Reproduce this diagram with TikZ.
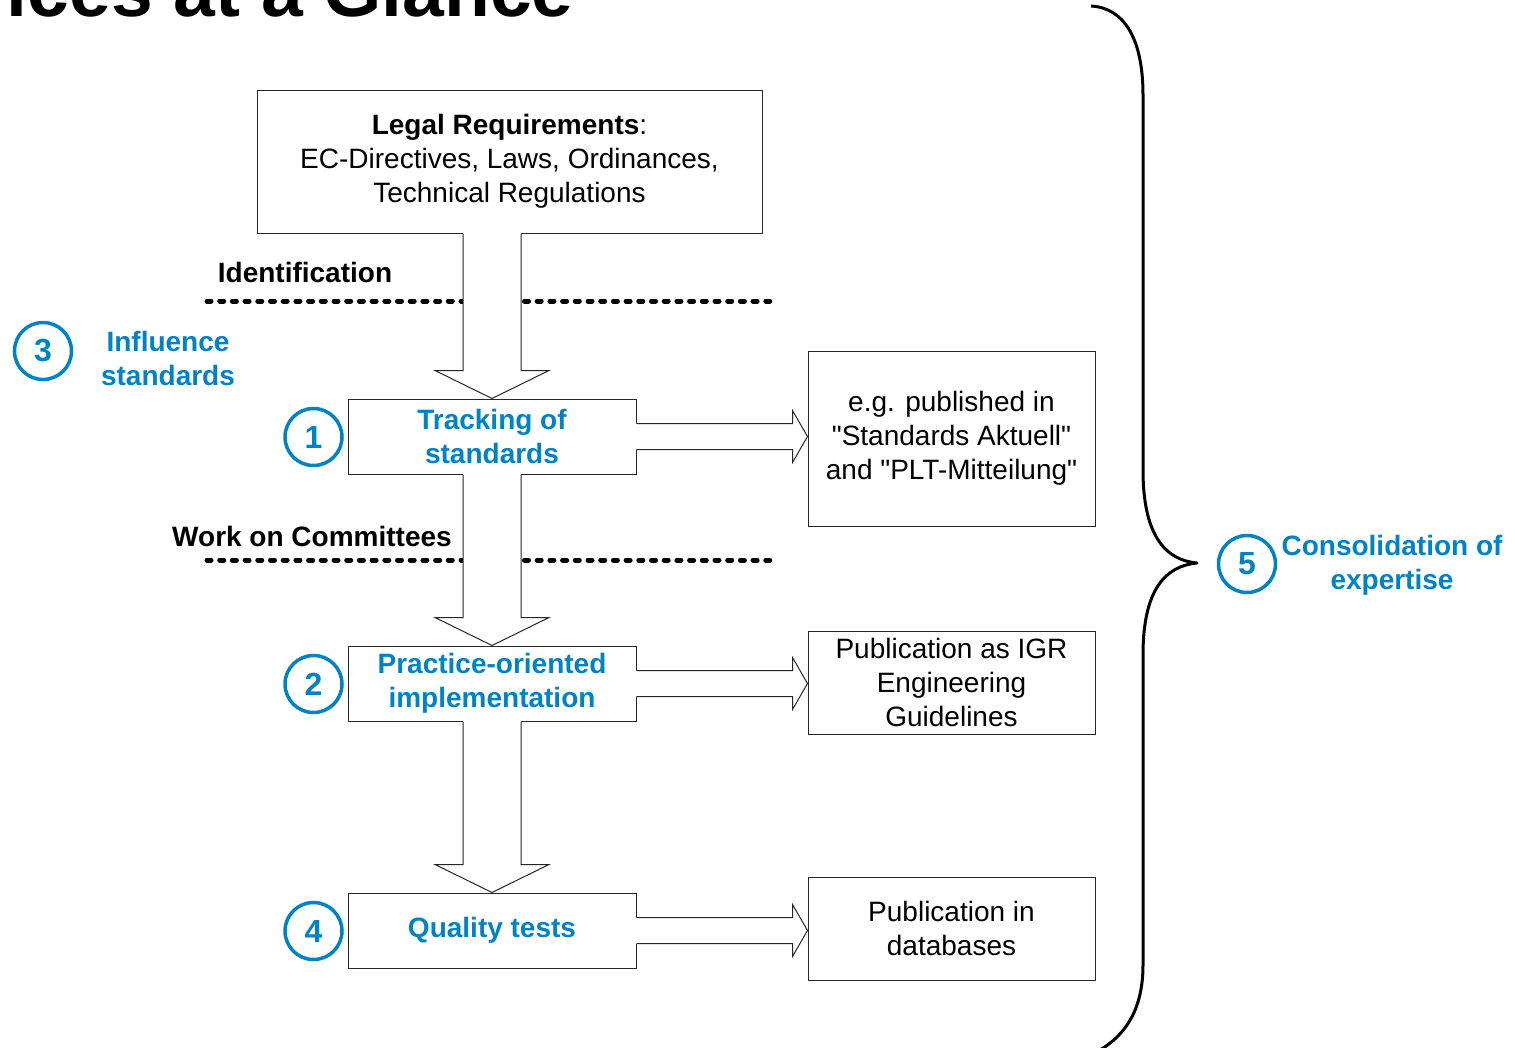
\documentclass[tikz,border=0pt]{standalone}
\usepackage{fontspec}
\setmainfont{Liberation Sans}[Ligatures=TeXOff]
\usetikzlibrary{calc}
\definecolor{igrblue}{RGB}{0,130,198}
\tikzset{
  body/.style={font=\fontsize{28}{34}\selectfont, align=center, inner sep=0pt},
  bluelbl/.style={font=\fontsize{28}{34}\selectfont\bfseries, text=igrblue, align=center, inner sep=0pt},
  boxn/.style={draw=black!85, line width=1pt, fill=white, inner sep=0pt, align=center, font=\fontsize{28}{34}\selectfont},
  numc/.style={circle, draw=igrblue, line width=3.5pt, minimum size=57pt, inner sep=0pt, text=igrblue, font=\fontsize{32}{32}\selectfont\bfseries},
  dotline/.style={line width=5pt, line cap=round, dash pattern=on 4pt off 8.7pt},
  hollow/.style={draw=black!85, line width=1pt},
  bracel/.style={line width=3pt, black, line join=round}
}
\newcommand\hdarrow[2]{%
  \fill[white] let \p1=(#2.north), \p2=(#1.south) in
    (\x1-29pt,\y2+1.5pt) -- (\x1-29pt,\y1+28pt) -- (\x1-57pt,\y1+28pt) -- (\x1,\y1)
    -- (\x1+57pt,\y1+28pt) -- (\x1+29pt,\y1+28pt) -- (\x1+29pt,\y2+1.5pt) -- cycle;
  \draw[hollow] let \p1=(#2.north), \p2=(#1.south) in
    (\x1-29pt,\y2) -- (\x1-29pt,\y1+28pt) -- (\x1-57pt,\y1+28pt) -- (\x1,\y1)
    -- (\x1+57pt,\y1+28pt) -- (\x1+29pt,\y1+28pt) -- (\x1+29pt,\y2);}
\newcommand\hrarrow[2]{%
  \fill[white] let \p1=(#1.east), \p2=(#2.west) in
    (\x1-1.5pt,\y1+13pt) -- (\x2-15pt,\y1+13pt) -- (\x2-15pt,\y1+26pt) -- (\x2,\y1)
    -- (\x2-15pt,\y1-26pt) -- (\x2-15pt,\y1-13pt) -- (\x1-1.5pt,\y1-13pt) -- cycle;
  \draw[hollow] let \p1=(#1.east), \p2=(#2.west) in
    (\x1,\y1+13pt) -- (\x2-15pt,\y1+13pt) -- (\x2-15pt,\y1+26pt) -- (\x2,\y1)
    -- (\x2-15pt,\y1-26pt) -- (\x2-15pt,\y1-13pt) -- (\x1,\y1-13pt);}
\begin{document}
\begin{tikzpicture}[x=1pt,y=-1pt]
\useasboundingbox (0,0) rectangle (1515,1047);
% title (cut off at the page edge)
\node[anchor=base east, inner sep=0pt, font=\fontsize{75}{80}\selectfont\bfseries] (title) at (574,16) {Services at a Glance};
% dotted separators
\draw[dotline] (207,301) coordinate (d1a) -- (773,301) coordinate (d1b);
\draw[dotline] (207,560) coordinate (d2a) -- (773,560) coordinate (d2b);
\node[body, font=\fontsize{28}{34}\selectfont\bfseries] (ident) at (305,272) {Identification};
\node[body, font=\fontsize{28}{34}\selectfont\bfseries] (work) at (312,536) {Work on Committees};
% boxes
\node[boxn, minimum width=505pt, minimum height=143pt] (legal) at (509.5,161.5)
  {\textbf{Legal Requirements}:\\EC-Directives, Laws, Ordinances,\\Technical Regulations};
\node[boxn, minimum width=288pt, minimum height=75pt, text=igrblue, font=\fontsize{28}{34}\selectfont\bfseries] (track) at (492,436.5) {Tracking of\\standards};
\node[boxn, minimum width=288pt, minimum height=75pt, text=igrblue, font=\fontsize{28}{34}\selectfont\bfseries] (pract) at (492,683.5) {Practice-oriented\\implementation};
\node[boxn, minimum width=288pt, minimum height=75pt, text=igrblue, font=\fontsize{28}{34}\selectfont\bfseries] (qual) at (492,930.5) {Quality tests};
\node[boxn, minimum width=287pt, minimum height=175pt] (pub1) at (951.5,438.5) {e.g. published in\\"Standards Aktuell"\\and "PLT-Mitteilung"};
\node[boxn, minimum width=287pt, minimum height=103pt] (pub2) at (951.5,682.5) {Publication as IGR\\Engineering\\Guidelines};
\node[boxn, minimum width=287pt, minimum height=103pt] (pub3) at (951.5,928.5) {Publication in\\databases};
% hollow arrows
\hdarrow{legal}{track}
\hdarrow{track}{pract}
\hdarrow{pract}{qual}
\hrarrow{track}{pub1}
\hrarrow{pract}{pub2}
\hrarrow{qual}{pub3}
% numbered circles
\node[numc] (c1) at (313.5,437) {1};
\node[numc] (c2) at (313.5,684) {2};
\node[numc] (c4) at (313.5,931) {4};
\node[numc] (c3) at (43,351) {3};
\node[bluelbl] (infl) at (168,358) {Influence\\standards};
\node[numc] (c5) at (1247,564) {5};
\node[bluelbl] (cons) at (1392,565) {Consolidation of\\expertise};
% brace
\draw[bracel] (1091,6) .. controls (1125,8) and (1143,40) .. (1143,95)
  -- (1143,470) .. controls (1143,535) and (1165,560) .. (1197,563) coordinate (btip)
  .. controls (1165,566) and (1143,590) .. (1143,655)
  -- (1143,965) .. controls (1143,1010) and (1125,1035) .. (1100,1050);
\end{tikzpicture}
\end{document}
